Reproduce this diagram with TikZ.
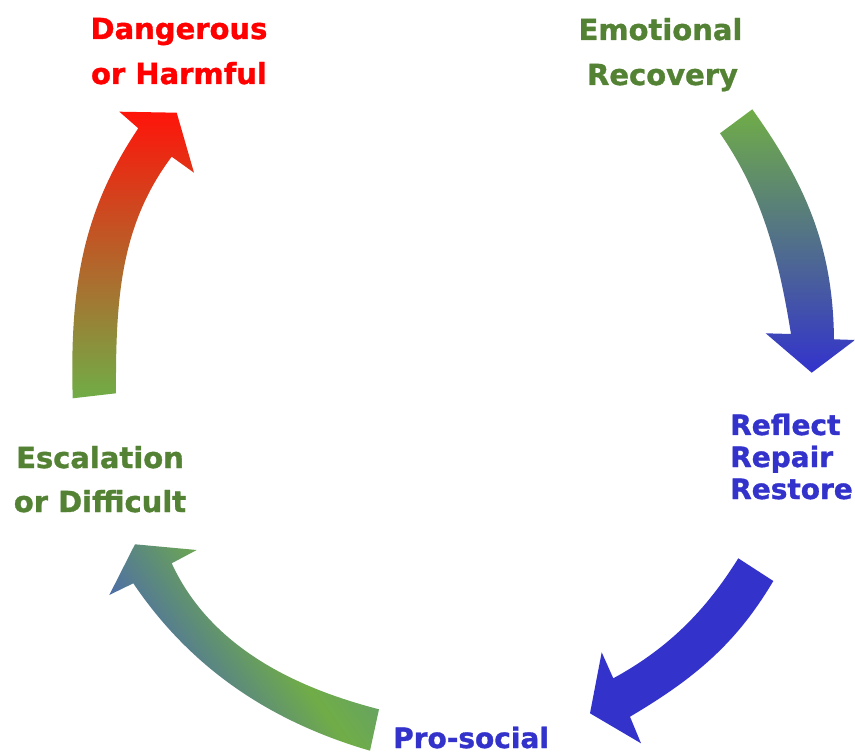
\documentclass[tikz,border=0pt]{standalone}
\usepackage{fontspec}
\setmainfont{DejaVu Sans}[BoldFeatures={FakeBold=1.2}]
\definecolor{textgreen}{RGB}{84,130,53}
\definecolor{textred}{RGB}{255,0,0}
\definecolor{cycleblue}{RGB}{51,51,204}
\definecolor{cyclegreen}{RGB}{112,173,71}
\definecolor{cyclered}{RGB}{255,20,10}
\definecolor{slateblue}{RGB}{76,108,170}
\definecolor{tealgreen}{RGB}{92,152,130}
% head-to-tail colour run of the lower left arrow
\pgfdeclarehorizontalshading{escalationrun}{100bp}{%
  color(0bp)=(slateblue); color(33bp)=(slateblue); color(56bp)=(cyclegreen);
  color(78bp)=(tealgreen); color(100bp)=(tealgreen)}
\begin{document}
\begin{tikzpicture}[x=1pt,y=-1pt,
  lbl/.style={font=\bfseries\fontsize{29}{34}\selectfont, inner sep=0pt, anchor=base},
  lblw/.style={lbl, font=\bfseries\fontsize{28}{34}\selectfont, anchor=base west}]
\useasboundingbox (0,0) rectangle (855,754);

% stage labels
\node[lbl, text=textred]   (dang1) at (179,39)  {Dangerous};
\node[lbl, text=textred]   (dang2) at (179,84)  {or Harmful};
\node[lbl, text=textgreen] (emo1)  at (660.5,40) {Emotional};
\node[lbl, text=textgreen] (emo2)  at (662.5,85) {Recovery};
\node[lblw, text=cycleblue] (rr1)  at (730,435) {Reflect};
\node[lblw, text=cycleblue] (rr2)  at (730,467) {Repair};
\node[lblw, text=cycleblue] (rr3)  at (730,499) {Restore};
\node[lblw, text=cycleblue] (pro)  at (393,748) {Pro-social};
\node[lbl, text=textgreen] (esc1)  at (100,468) {Escalation};
\node[lbl, text=textgreen] (esc2)  at (100,512) {or Difficult};

% escalation -> dangerous (green to red)
\shade[top color=cyclered, bottom color=cyclegreen]
  (72.7,398.3) .. controls (69.7,288) and (82.3,211.3) .. (138.3,128.3)
  -- (119.3,111.7) -- (176.7,112.7) -- (194,172.7) -- (171.7,156.7)
  .. controls (120.7,224.7) and (115.5,298) .. (116,393.3)
  -- cycle;

% emotional recovery -> reflect (green to blue)
\shade[top color=cyclegreen, bottom color=cycleblue]
  (720,133.3) .. controls (762.8,194.8) and (779,259.8) .. (791,334)
  -- (765.7,333.3) -- (811.7,372.7) -- (855,340) -- (834,339.3)
  .. controls (833,249) and (807.4,186.3) .. (752.3,109.3)
  -- cycle;

% reflect -> pro-social (solid blue)
\fill[cycleblue]
  (738.3,558.3) .. controls (705.4,611) and (667.9,648.5) .. (613.3,678.3)
  -- (601.7,652.3) -- (590,713.3) -- (641,743.3) -- (630,716.7)
  .. controls (693.6,679) and (735.6,644.6) .. (773.3,581)
  -- cycle;

% pro-social -> escalation (teal, green, slate blue)
\shade[shading=escalationrun, shading angle=35]
  (379,709.3) .. controls (291.7,686.8) and (209.5,645.2) .. (171.7,563.3)
  -- (196.7,550) -- (135,544.3) -- (109.3,595) -- (133.3,583.3)
  .. controls (191,668.8) and (271.1,721.9) .. (370,750.7)
  -- cycle;
\end{tikzpicture}
\end{document}
